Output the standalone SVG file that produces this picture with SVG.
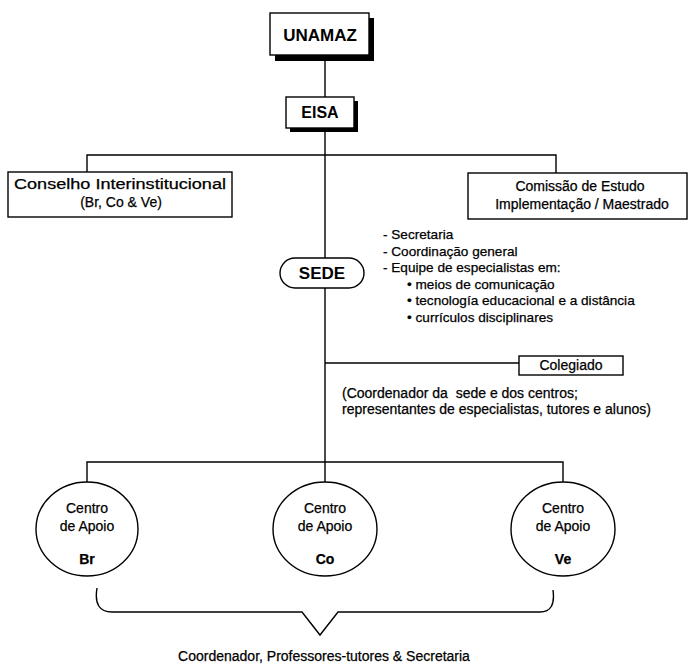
<svg xmlns="http://www.w3.org/2000/svg" width="691" height="666" viewBox="0 0 691 666">
<style>
  text { font-family: "Liberation Sans", Arial, sans-serif; fill: #000; }
  .t { font-size: 14px; stroke: #000; stroke-width: 0.25; }
  .s { font-size: 13.6px; }
  .b { font-size: 16px; font-weight: bold; }
  .m { text-anchor: middle; }
  .box { fill: #fff; stroke: #000; stroke-width: 1.4; }
  .sh { fill: #000; }
  .ln { fill: none; stroke: #000; stroke-width: 1.4; }
</style>
<rect width="691" height="666" fill="#fff"/>
<g id="connectors">
  <path class="ln" d="M325 55 V97 M325 128 V258 M325 288 V482"/>
  <path class="ln" d="M87 172 V155 H556 V173"/>
  <path class="ln" d="M325 363 H519"/>
  <path class="ln" d="M87 482 V462 H563 V482"/>
  <path class="ln" d="M97 588 Q93 612 112 612 H302 L320 635 L338 612 H540 Q556 612 553 590"/>
</g>
<g id="unamaz">
  <rect class="sh" x="275" y="18" width="99" height="43"/>
  <rect class="box" x="270" y="13" width="99" height="42"/>
  <text class="b m" x="320" y="41" style="font-size:17px">UNAMAZ</text>
</g>
<g id="eisa">
  <rect class="sh" x="290" y="101" width="68" height="31"/>
  <rect class="box" x="286" y="97" width="68" height="31"/>
  <text class="b m" x="320" y="118">EISA</text>
</g>
<g id="conselho">
  <rect class="box" x="8" y="172" width="224" height="45"/>
  <text class="t m" x="120" y="189" textLength="212" lengthAdjust="spacingAndGlyphs">Conselho Interinstitucional</text>
  <text class="t m" x="121" y="207">(Br, Co &amp; Ve)</text>
</g>
<g id="comissao">
  <rect class="box" x="468" y="173" width="219" height="46"/>
  <text class="t m" x="580" y="191">Comissão de Estudo</text>
  <text class="t m" x="582" y="209">Implementação / Maestrado</text>
</g>
<g id="sede-info">
  <text class="t s" x="383" y="239">- Secretaria</text>
  <text class="t s" x="383" y="256">- Coordinação general</text>
  <text class="t s" x="383" y="272">- Equipe de especialistas em:</text>
  <text class="t s" x="407" y="289">• meios de comunicação</text>
  <text class="t s" x="407" y="305">• tecnología educacional e a distância</text>
  <text class="t s" x="407" y="322">• currículos disciplinares</text>
</g>
<g id="sede">
  <rect class="box" x="280" y="258" width="84" height="30" rx="15" ry="15"/>
  <text class="b m" x="322" y="279" style="font-size:17px">SEDE</text>
</g>
<g id="colegiado">
  <rect class="box" x="519" y="356" width="104" height="19"/>
  <text class="t m" x="571" y="370">Colegiado</text>
  <text class="t" x="342" y="398" xml:space="preserve">(Coordenador da  sede e dos centros;</text>
  <text class="t" x="342" y="414">representantes de especialistas, tutores e alunos)</text>
</g>
<g id="centro-br">
  <ellipse class="box" cx="87" cy="529" rx="51" ry="47"/>
  <text class="t m" x="87" y="513">Centro</text>
  <text class="t m" x="87" y="531">de Apoio</text>
  <text class="t m" x="87" y="564" style="font-weight:bold">Br</text>
</g>
<g id="centro-co">
  <ellipse class="box" cx="325" cy="529" rx="52" ry="47"/>
  <text class="t m" x="325" y="513">Centro</text>
  <text class="t m" x="325" y="531">de Apoio</text>
  <text class="t m" x="325" y="564" style="font-weight:bold">Co</text>
</g>
<g id="centro-ve">
  <ellipse class="box" cx="563" cy="529" rx="52" ry="47"/>
  <text class="t m" x="563" y="513">Centro</text>
  <text class="t m" x="563" y="531">de Apoio</text>
  <text class="t m" x="563" y="564" style="font-weight:bold">Ve</text>
</g>
<g id="footer">
  <text class="t m" x="324" y="661">Coordenador, Professores-tutores &amp; Secretaria</text>
</g>
</svg>
